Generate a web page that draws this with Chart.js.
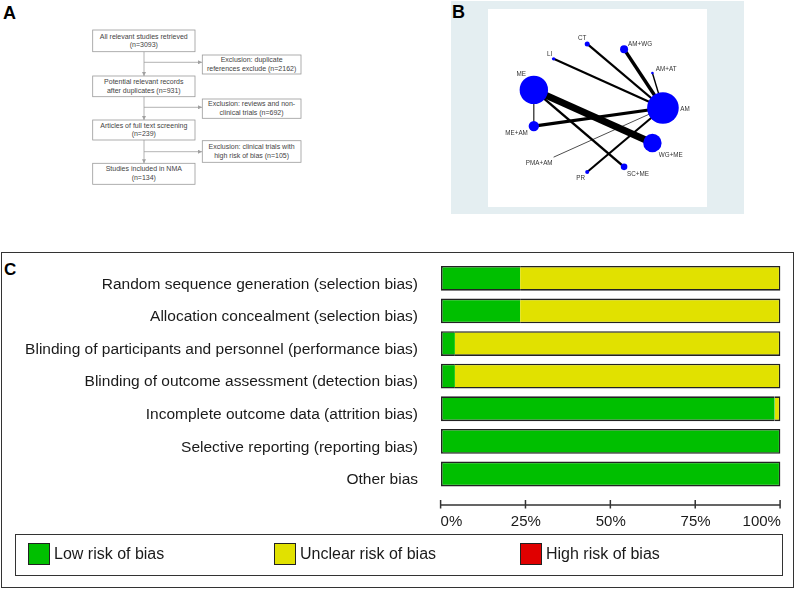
<!DOCTYPE html>
<html><head><meta charset="utf-8">
<script src="https://cdn.jsdelivr.net/npm/chart.js@4.4.1/dist/chart.umd.min.js"></script>
<style>
html,body{margin:0;padding:0;background:#fff}
body{width:796px;height:589px;position:relative;overflow:hidden;font-family:"Liberation Sans",Arial,sans-serif}
.abs{position:absolute}
.letter{position:absolute;font-weight:bold;font-size:18px;line-height:18px;color:#000}
.fc text{font-family:"Liberation Sans",Arial,sans-serif;font-size:7px;fill:#444;text-anchor:middle;dominant-baseline:middle}
.fc rect{fill:#fff;stroke:#9a9a9a;stroke-width:0.8}
.fc line{stroke:#a0a0a0;stroke-width:0.8}
.lg-sw{position:absolute;width:22px;height:22px;box-sizing:border-box;border:1px solid #222}
.lg-tx{position:absolute;font-size:16px;line-height:18px;color:#1a1a1a;white-space:nowrap}
</style></head><body>

<div class="letter" style="left:3px;top:4px">A</div>
<svg class="abs fc" style="left:0;top:0" width="310" height="195" viewBox="0 0 310 195">
  <defs><marker id="ah" markerWidth="4" markerHeight="4" refX="4" refY="2" orient="auto" markerUnits="userSpaceOnUse"><path d="M0,0 L4,2 L0,4 z" fill="#a0a0a0"/></marker></defs>
  <line x1="144" y1="51.7" x2="144" y2="76" marker-end="url(#ah)"/>
  <line x1="144" y1="96.7" x2="144" y2="120" marker-end="url(#ah)"/>
  <line x1="144" y1="140" x2="144" y2="163.3" marker-end="url(#ah)"/>
  <line x1="144" y1="62.3" x2="202" y2="62.3" marker-end="url(#ah)"/>
  <line x1="144" y1="107.3" x2="202" y2="107.3" marker-end="url(#ah)"/>
  <line x1="144" y1="151.7" x2="202" y2="151.7" marker-end="url(#ah)"/>
  <rect x="92.7" y="30" width="102.3" height="21.7"/>
  <text x="143.8" y="36.7">All relevant studies retrieved</text>
  <text x="143.8" y="45.6">(n=3093)</text>
  <rect x="92.7" y="76" width="102.3" height="20.7"/>
  <text x="143.8" y="82.2">Potential relevant records</text>
  <text x="143.8" y="91.1">after duplicates (n=931)</text>
  <rect x="92.7" y="120" width="102.3" height="20"/>
  <text x="143.8" y="125.8">Articles of full text screening</text>
  <text x="143.8" y="134.6">(n=239)</text>
  <rect x="92.7" y="163.3" width="102.3" height="21"/>
  <text x="143.8" y="169.4">Studies included in NMA</text>
  <text x="143.8" y="178.3">(n=134)</text>
  <rect x="202.3" y="55" width="98.7" height="19"/>
  <text x="251.6" y="60.3">Exclusion: duplicate</text>
  <text x="251.6" y="68.9">references exclude (n=2162)</text>
  <rect x="202.3" y="99" width="98.7" height="19.3"/>
  <text x="251.6" y="104.4">Exclusion: reviews and non-</text>
  <text x="251.6" y="113">clinical trials (n=692)</text>
  <rect x="202.3" y="140.7" width="98.7" height="21.6"/>
  <text x="251.6" y="147">Exclusion: clinical trials with</text>
  <text x="251.6" y="156">high risk of bias (n=105)</text>
</svg>

<div class="abs" style="left:451px;top:1px;width:293px;height:213px;background:#e4eef1"></div>
<div class="abs" style="left:488px;top:9px;width:219px;height:198px;background:#fff"></div>
<canvas id="net" class="abs" style="left:488px;top:9px;width:219px;height:198px" width="219" height="198"></canvas>
<div class="letter" style="left:452px;top:3px">B</div>

<div class="abs" style="left:1px;top:252px;width:793px;height:335.5px;box-sizing:border-box;border:1.5px solid #333"></div>
<div class="letter" style="left:4px;top:261px;font-size:17px;line-height:17px">C</div>
<canvas id="rob" class="abs" style="left:3px;top:254px;width:789px;height:280px" width="789" height="280"></canvas>
<div class="abs" style="left:14.5px;top:533.5px;width:768px;height:42px;box-sizing:border-box;border:1.5px solid #333"></div>
<div id="legend"></div>

<script>
// ---------- Panel C data ----------
const categories = [
  'Random sequence generation (selection bias)',
  'Allocation concealment (selection bias)',
  'Blinding of participants and personnel (performance bias)',
  'Blinding of outcome assessment (detection bias)',
  'Incomplete outcome data (attrition bias)',
  'Selective reporting (reporting bias)',
  'Other bias'
];
const lowRisk     = [23.3, 23.3, 4.1, 4.1, 98.3, 100, 100];
const unclearRisk = [76.7, 76.7, 95.9, 95.9, 1.7, 0, 0];
const highRisk    = [0, 0, 0, 0, 0, 0, 0];
const seriesNames = ['Low risk of bias', 'Unclear risk of bias', 'High risk of bias'];
const xTicks      = [0, 25, 50, 75, 100];
const xTickLabels = ['0%', '25%', '50%', '75%', '100%'];

// ---------- Panel B data ----------
const nodeNames = ['AM', 'AM+AT', 'AM+WG', 'CT', 'LI', 'ME', 'ME+AM', 'PMA+AM', 'PR', 'SC+ME', 'WG+ME'];
const nodeX     = [1.00, 0.84, 0.41, -0.15, -0.66, -0.96, -0.96, -0.66, -0.15, 0.41, 0.84];
const nodeY     = [0.00, 0.54, 0.91, 0.99, 0.76, 0.28, -0.28, -0.76, -0.99, -0.91, -0.54];
const nodeSize  = [15.8, 1.3, 4.0, 2.5, 1.7, 14.2, 5.2, 0, 2.0, 3.3, 9.2];
const edgeFrom  = ['ME', 'AM+WG', 'ME+AM', 'ME', 'CT', 'LI', 'PR', 'AM+AT', 'ME', 'PMA+AM'];
const edgeTo    = ['WG+ME', 'AM', 'AM', 'SC+ME', 'AM', 'AM', 'AM', 'AM', 'ME+AM', 'AM'];
const edgeTrials= [20, 10, 9, 7, 6.5, 6, 6, 4, 3, 2];

// ---------- styles ----------
const FONT = '"Liberation Sans", Arial, sans-serif';
const seriesColors = ['#00bf00', '#e1e100', '#e00000'];
const labelPlacement = {
  'AM': [17.3, 1, 'left'], 'AM+AT': [3.4, -3.5, 'left'], 'AM+WG': [4, -5, 'left'],
  'CT': [-5, -5.2, 'center'], 'LI': [-4, -5, 'center'], 'ME': [-12.7, -15.2, 'center'],
  'ME+AM': [-6, 6.8, 'right'], 'PMA+AM': [-1, 6.5, 'right'], 'PR': [-6.5, 6, 'center'],
  'SC+ME': [3, 7.5, 'left'], 'WG+ME': [6.4, 12.7, 'left']
};
Chart.defaults.font.family = FONT;

// ---------- Panel B chart ----------
const idx = n => nodeNames.indexOf(n);
const nodeDs = {
  label: 'nodes',
  data: nodeNames.map((n, i) => ({x: nodeX[i], y: nodeY[i]})),
  pointRadius: nodeSize, pointHoverRadius: nodeSize,
  backgroundColor: '#0000ff', borderWidth: 0, clip: false
};
const edgeDs = edgeFrom.map((f, k) => ({
  label: f + '-' + edgeTo[k],
  data: [{x: nodeX[idx(f)], y: nodeY[idx(f)]}, {x: nodeX[idx(edgeTo[k])], y: nodeY[idx(edgeTo[k])]}],
  showLine: true, pointRadius: 0, borderColor: '#000', borderWidth: edgeTrials[k] * 0.35,
  borderCapStyle: 'butt', clip: false
}));
const nodeLabelPlugin = {
  id: 'nodeLabels',
  afterDatasetsDraw(chart) {
    const c = chart.ctx, sx = chart.scales.x, sy = chart.scales.y;
    c.save();
    c.font = '6.3px ' + FONT;
    c.fillStyle = '#333';
    c.textBaseline = 'middle';
    nodeNames.forEach((n, i) => {
      const p = labelPlacement[n];
      c.textAlign = p[2];
      c.fillText(n, sx.getPixelForValue(nodeX[i]) + p[0], sy.getPixelForValue(nodeY[i]) + p[1]);
    });
    c.restore();
  }
};
new Chart(document.getElementById('net'), {
  type: 'scatter',
  data: {datasets: [nodeDs, ...edgeDs]},
  options: {
    responsive: false, animation: false, events: [],
    layout: {padding: 0},
    scales: {
      x: {type: 'linear', display: false, min: -1.416, max: 1.429},
      y: {type: 'linear', display: false, min: -1.286, max: 1.286}
    },
    plugins: {legend: {display: false}, tooltip: {enabled: false}}
  },
  plugins: [nodeLabelPlugin]
});

// ---------- Panel C chart ----------
const seriesData = [lowRisk, unclearRisk, highRisk];
function makeSeries(s) {
  return {
    label: seriesNames[s],
    data: seriesData[s],
    backgroundColor: seriesColors[s],
    borderColor: '#222',
    borderWidth: ctx => (seriesData[s][ctx.dataIndex] > 0 ? 1.6 : 0),
    borderSkipped: ctx => {
      const i = ctx.dataIndex;
      let before = 0, after = 0;
      seriesData.forEach((d, k) => { if (k < s) before += d[i]; if (k > s) after += d[i]; });
      if (before > 0 && after > 0) return 'middle';
      if (before > 0) return 'left';
      if (after > 0) return 'right';
      return false;
    },
    categoryPercentage: 0.76,
    barPercentage: 1
  };
}
const noPad = s => { s.paddingTop = 0; s.paddingBottom = 0; s.paddingLeft = 0; s.paddingRight = 0; };
const axisPlugin = {
  id: 'xAxisLine',
  afterDraw(chart) {
    const s = chart.scales.x, c = chart.ctx;
    const y0 = s.top + 14.7;
    c.save();
    c.strokeStyle = '#333';
    c.lineWidth = 1.5;
    c.beginPath();
    c.moveTo(s.getPixelForValue(xTicks[0]) - 0.3, y0);
    c.lineTo(s.getPixelForValue(xTicks[xTicks.length - 1]) - 0.5, y0);
    xTicks.forEach(v => {
      const x = s.getPixelForValue(v) - 0.4;
      c.moveTo(x, y0 - 5);
      c.lineTo(x, y0 + 3.5);
    });
    c.stroke();
    c.restore();
  }
};
new Chart(document.getElementById('rob'), {
  type: 'bar',
  data: {labels: categories, datasets: [0, 1, 2].map(makeSeries)},
  options: {
    indexAxis: 'y', responsive: false, animation: false, events: [],
    layout: {padding: {top: 8, right: 11.5, bottom: 0, left: 0}},
    scales: {
      x: {
        type: 'linear', stacked: true, min: 0, max: 100,
        grid: {display: false, drawTicks: false}, border: {display: false},
        afterBuildTicks: s => { s.ticks = xTicks.map(v => ({value: v})); },
        afterFit: s => { s.height = 43.7; noPad(s); },
        ticks: {
          autoSkip: false, maxRotation: 0, minRotation: 0, padding: 22.4,
          color: '#1a1a1a', font: {size: 15, family: FONT},
          callback: (v) => {
            const i = xTicks.indexOf(v);
            const t = xTickLabels[i];
            if (i === 0) return '     ' + t;
            if (i === xTicks.length - 1) return t + '         ';
            return t;
          }
        }
      },
      y: {
        type: 'category', stacked: true,
        grid: {display: false, drawTicks: false}, border: {display: false},
        afterFit: s => { s.width = 438; noPad(s); },
        ticks: {padding: 23, labelOffset: 6, color: '#1a1a1a', font: {size: 15.5, family: FONT}}
      }
    },
    plugins: {legend: {display: false}, tooltip: {enabled: false}}
  },
  plugins: [axisPlugin]
});

// ---------- legend ----------
const lg = document.getElementById('legend');
seriesNames.forEach((n, s) => {
  const sw = document.createElement('div');
  sw.className = 'lg-sw';
  sw.style.left = (28 + 246 * s) + 'px';
  sw.style.top = '543px';
  sw.style.background = seriesColors[s];
  lg.appendChild(sw);
  const tx = document.createElement('div');
  tx.className = 'lg-tx';
  tx.style.left = (54 + 246 * s) + 'px';
  tx.style.top = '545px';
  tx.textContent = n;
  lg.appendChild(tx);
});
</script>
</body></html>
